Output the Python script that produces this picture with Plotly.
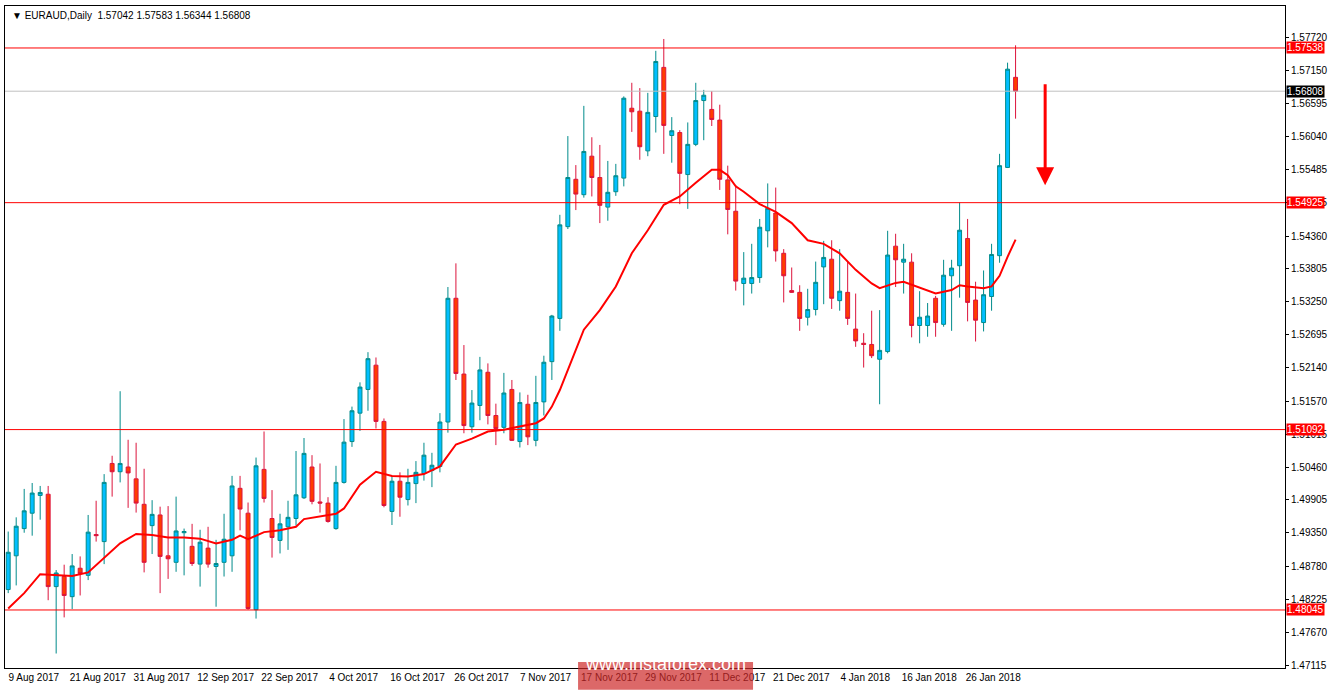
from plotly import graph_objects as plgo

# daily EURAUD bars, 9 Aug 2017 .. early Feb 2018 (bar index on x)
opens = [1.4839, 1.4896, 1.4942, 1.4968, 1.4998, 1.5000, 1.4844, 1.4861, 1.4827, 1.4875,
         1.4863, 1.4932, 1.4920, 1.5052, 1.5038, 1.5046, 1.5026, 1.4983, 1.4947, 1.4965,
         1.4896, 1.4885, 1.4935, 1.4912, 1.4882, 1.4909, 1.4878, 1.4885, 1.4896, 1.5010,
         1.4968, 1.4805, 1.5042, 1.4959, 1.4922, 1.4945, 1.4959, 1.4994, 1.5046, 1.4987,
         1.4985, 1.4942, 1.5020, 1.5089, 1.5137, 1.5177, 1.5218, 1.5123, 1.4971, 1.5022,
         1.4991, 1.5018, 1.5035, 1.5040, 1.5047, 1.5122, 1.5331, 1.5203, 1.5114, 1.5150,
         1.5206, 1.5133, 1.5113, 1.5177, 1.5089, 1.5152, 1.5091, 1.5156, 1.5224, 1.5297,
         1.5452, 1.5532, 1.5506, 1.5571, 1.5535, 1.5485, 1.5511, 1.5534, 1.5652, 1.5647,
         1.5580, 1.5638, 1.5721, 1.5606, 1.5611, 1.5540, 1.5591, 1.5665, 1.5650, 1.5632,
         1.5531, 1.5478, 1.5356, 1.5356, 1.5366, 1.5445, 1.5475, 1.5407, 1.5344, 1.5341,
         1.5299, 1.5312, 1.5384, 1.5397, 1.5327, 1.5341, 1.5279, 1.5255, 1.5253, 1.5228,
         1.5241, 1.5419, 1.5392, 1.5392, 1.5285, 1.5285, 1.5331, 1.5287, 1.5369, 1.5386,
         1.5432, 1.5328, 1.5290, 1.5334, 1.5403, 1.5552, 1.57042]
highs = [1.4937, 1.4961, 1.5009, 1.5019, 1.5014, 1.5014, 1.4872, 1.4881, 1.4899, 1.4895,
         1.4965, 1.4989, 1.5034, 1.5065, 1.5174, 1.5092, 1.5087, 1.5043, 1.4990, 1.4979,
         1.4980, 1.4996, 1.4942, 1.4950, 1.4940, 1.4945, 1.4923, 1.4967, 1.5031, 1.5031,
         1.4986, 1.5062, 1.5106, 1.5007, 1.4967, 1.4989, 1.5073, 1.5095, 1.5066, 1.5052,
         1.4995, 1.5048, 1.5127, 1.5148, 1.5189, 1.5240, 1.5231, 1.5128, 1.5031, 1.5037,
         1.5043, 1.5056, 1.5087, 1.5070, 1.5137, 1.5350, 1.5390, 1.5252, 1.5176, 1.5232,
         1.5221, 1.5153, 1.5205, 1.5193, 1.5172, 1.5168, 1.5200, 1.5234, 1.5303, 1.5472,
         1.5605, 1.5556, 1.5656, 1.5603, 1.5590, 1.5563, 1.5558, 1.5672, 1.5695, 1.5686,
         1.5678, 1.5749, 1.5769, 1.5637, 1.5615, 1.5628, 1.5695, 1.5683, 1.5681, 1.5658,
         1.5555, 1.5522, 1.5409, 1.5423, 1.5465, 1.5525, 1.5518, 1.5414, 1.5383, 1.5353,
         1.5347, 1.5393, 1.5428, 1.5429, 1.5414, 1.5393, 1.5339, 1.5272, 1.5310, 1.5311,
         1.5445, 1.5440, 1.5423, 1.5407, 1.5343, 1.5323, 1.5335, 1.5396, 1.5396, 1.5493,
         1.5465, 1.5359, 1.5378, 1.5423, 1.5575, 1.5729, 1.57583]
lows = [1.4833, 1.4846, 1.4935, 1.4930, 1.4957, 1.4821, 1.4731, 1.4792, 1.4806, 1.4829,
        1.4855, 1.4920, 1.4882, 1.4996, 1.5020, 1.4977, 1.4969, 1.4868, 1.4899, 1.4833,
        1.4857, 1.4869, 1.4863, 1.4879, 1.4844, 1.4876, 1.4810, 1.4861, 1.4869, 1.4939,
        1.4805, 1.4790, 1.4986, 1.4893, 1.4900, 1.4906, 1.4947, 1.4992, 1.4983, 1.4969,
        1.4952, 1.4940, 1.5018, 1.5080, 1.5107, 1.5141, 1.5111, 1.4978, 1.4948, 1.4962,
        1.4981, 1.4985, 1.5023, 1.5012, 1.5037, 1.5104, 1.5193, 1.5103, 1.5104, 1.5125,
        1.5118, 1.5083, 1.5103, 1.5090, 1.5079, 1.5083, 1.5081, 1.5133, 1.5193, 1.5276,
        1.5448, 1.5480, 1.5501, 1.5503, 1.5458, 1.5462, 1.5504, 1.5520, 1.5612, 1.5565,
        1.5571, 1.5611, 1.5575, 1.5560, 1.5490, 1.5482, 1.5588, 1.5598, 1.5622, 1.5514,
        1.5439, 1.5344, 1.5319, 1.5339, 1.5357, 1.5417, 1.5393, 1.5324, 1.5340, 1.5276,
        1.5285, 1.5302, 1.5321, 1.5313, 1.5310, 1.5286, 1.5249, 1.5214, 1.5230, 1.5152,
        1.5238, 1.5350, 1.5339, 1.5265, 1.5255, 1.5266, 1.5266, 1.5283, 1.5276, 1.5332,
        1.5292, 1.5258, 1.5275, 1.5310, 1.5391, 1.5551, 1.56344]
closes = [1.4902, 1.4946, 1.4972, 1.5002, 1.5003, 1.4844, 1.4867, 1.4829, 1.4879, 1.4866,
          1.4936, 1.4930, 1.5020, 1.5038, 1.5052, 1.5036, 1.4985, 1.4885, 1.4966, 1.4895,
          1.4891, 1.4938, 1.4937, 1.4883, 1.4919, 1.4882, 1.4883, 1.4924, 1.5014, 1.4975,
          1.4807, 1.5048, 1.4993, 1.4927, 1.4950, 1.4961, 1.4999, 1.5069, 1.4988, 1.4985,
          1.4954, 1.5020, 1.5088, 1.5141, 1.5181, 1.5229, 1.5123, 1.4981, 1.5022, 1.4995,
          1.5020, 1.5037, 1.5066, 1.5049, 1.5122, 1.5331, 1.5204, 1.5116, 1.5154, 1.5210,
          1.5133, 1.5111, 1.5171, 1.5091, 1.5155, 1.5097, 1.5155, 1.5223, 1.5301, 1.5455,
          1.5535, 1.5507, 1.5579, 1.5535, 1.5488, 1.5510, 1.5538, 1.5669, 1.5646, 1.5587,
          1.5645, 1.5731, 1.5623, 1.5614, 1.5542, 1.5591, 1.5665, 1.5674, 1.5633, 1.5532,
          1.5481, 1.5360, 1.5365, 1.5366, 1.5451, 1.5483, 1.5411, 1.5369, 1.5341, 1.5297,
          1.5312, 1.5358, 1.5400, 1.5331, 1.5343, 1.5297, 1.5259, 1.5253, 1.5234, 1.5243,
          1.5404, 1.5396, 1.5397, 1.5285, 1.5299, 1.5301, 1.5290, 1.5370, 1.5382, 1.5446,
          1.5324, 1.5294, 1.5337, 1.5405, 1.5555, 1.5718, 1.56808]

# moving average at some bars
ma_bars = [0, 2, 4, 6, 8, 10, 12, 14, 16, 18, 20, 22, 24, 26, 28, 29, 30, 32, 34, 36, 37, 39,
           41, 42, 44, 46, 48, 50, 52, 54, 56, 58, 60, 62, 64, 66, 67, 68, 69, 72, 74, 76, 78,
           80, 82, 84, 86, 88, 89, 90, 91, 92, 94, 96, 98, 100, 102, 104, 106, 108, 109, 110,
           111, 112, 114, 116, 118, 119, 120, 122, 123, 124, 125, 126]
ma_values = [1.4807, 1.4833, 1.4865, 1.4863, 1.4862, 1.4868, 1.4892, 1.4917, 1.4933, 1.4931,
             1.4927, 1.4927, 1.4925, 1.4917, 1.4923, 1.4930, 1.4924, 1.4936, 1.4939, 1.4945,
             1.4958, 1.4962, 1.4967, 1.4976, 1.5016, 1.5038, 1.5031, 1.5030, 1.5034, 1.5047,
             1.5084, 1.5094, 1.5106, 1.5109, 1.5114, 1.5120, 1.5128, 1.5148, 1.5176, 1.5278,
             1.5311, 1.5351, 1.5407, 1.5446, 1.5489, 1.5503, 1.5526, 1.5548, 1.5548, 1.5539,
             1.5520, 1.5511, 1.5490, 1.5477, 1.5458, 1.5429, 1.5423, 1.5407, 1.5379, 1.5356,
             1.5348, 1.5352, 1.5357, 1.5359, 1.5349, 1.5339, 1.5345, 1.5353, 1.5351, 1.5348,
             1.5351, 1.5369, 1.5401, 1.5430]

levels = [1.57538, 1.54925, 1.51092, 1.48045]
last_price = 1.56808

price_ticks = [1.57720, 1.57150, 1.56595, 1.56040, 1.55485, 1.54925, 1.54360, 1.53805,
               1.53250, 1.52695, 1.52140, 1.51570, 1.51015, 1.50460, 1.49905, 1.49350,
               1.48780, 1.48225, 1.47670, 1.47115]
date_labels = ['9 Aug 2017', '21 Aug 2017', '31 Aug 2017', '12 Sep 2017', '22 Sep 2017',
               '4 Oct 2017', '16 Oct 2017', '26 Oct 2017', '7 Nov 2017', '17 Nov 2017',
               '29 Nov 2017', '11 Dec 2017', '21 Dec 2017', '4 Jan 2018', '16 Jan 2018',
               '26 Jan 2018']
arrow_bar, arrow_from, arrow_to = 129.7, 1.5695, 1.5522

bars = list(range(len(opens)))
FONT = 'Liberation Sans'

fig = plgo.Figure()
fig.add_candlestick(x=bars, open=opens, high=highs, low=lows, close=closes,
                    increasing=dict(fillcolor='#00bfff', line=dict(color='#008b8b', width=1)),
                    decreasing=dict(fillcolor='#ff3c00', line=dict(color='#dc143c', width=1)),
                    whiskerwidth=0, showlegend=False)
fig.add_scatter(x=ma_bars, y=ma_values, mode='lines', line=dict(color='#ff0000', width=2),
                showlegend=False)

fig.add_hline(y=last_price, line=dict(color='#c0c0c0', width=1))
for lv in levels:
    fig.add_hline(y=lv, line=dict(color='#ff0000', width=1))
    fig.add_annotation(x=1, xref='paper', y=lv, yref='y', xanchor='left', text=f'{lv:.5f}',
                       showarrow=False, bgcolor='#ff0000', font=dict(color='white', size=10, family=FONT),
                       borderpad=0, xshift=1)
fig.add_annotation(x=1, xref='paper', y=last_price, yref='y', xanchor='left', text=f'{last_price:.5f}',
                   showarrow=False, bgcolor='black', font=dict(color='white', size=10, family=FONT),
                   borderpad=0, xshift=1)

# forecast arrow
fig.add_annotation(x=arrow_bar, y=arrow_to, ax=arrow_bar, ay=arrow_from, xref='x', yref='y',
                   axref='x', ayref='y', showarrow=True, arrowhead=2, arrowsize=1.2,
                   arrowwidth=3, arrowcolor='#ff0000', text='')

fig.add_annotation(x=0.004, y=1, xref='paper', yref='paper', xanchor='left', yanchor='top',
                   text='▼ EURAUD,Daily  1.57042 1.57583 1.56344 1.56808', showarrow=False,
                   font=dict(size=10, family=FONT, color='black'), yshift=-2)

# watermark
fig.add_shape(type='rect', xref='paper', yref='paper', x0=0.4477, x1=0.5844, y0=-0.033, y1=0.009,
              fillcolor='rgba(205,40,40,0.7)', line=dict(width=0), layer='above')
fig.add_annotation(x=0.516, y=-0.012, xref='paper', yref='paper', text='www.instaforex.com',
                   showarrow=False, font=dict(size=18, family=FONT, color='white'))

fig.update_layout(
    width=1329, height=693,
    margin=dict(l=5, r=44, t=6, b=25, autoexpand=False),
    paper_bgcolor='white', plot_bgcolor='white',
    xaxis=dict(range=[-0.4, 159.7], rangeslider=dict(visible=False), showgrid=False,
               zeroline=False, tickmode='array', automargin=False, tickangle=0,
               tickvals=[8 * i + 3.2 for i in range(len(date_labels))], ticktext=date_labels,
               ticks='', tickfont=dict(size=10, family=FONT, color='black'),
               showline=True, linecolor='black', mirror=True),
    yaxis=dict(range=[1.47065, 1.58247], side='right', showgrid=False, zeroline=False,
               tickmode='array', tickvals=price_ticks, ticktext=[f'{t:.5f}' for t in price_ticks],
               ticks='outside', ticklen=3, tickcolor='black', automargin=False,
               tickfont=dict(size=10, family=FONT, color='black'),
               showline=True, linecolor='black', mirror=True),
)

fig.write_html('out.html', config={'displayModeBar': False},
               post_script="document.body.style.margin='0';document.body.style.overflow='hidden';")
